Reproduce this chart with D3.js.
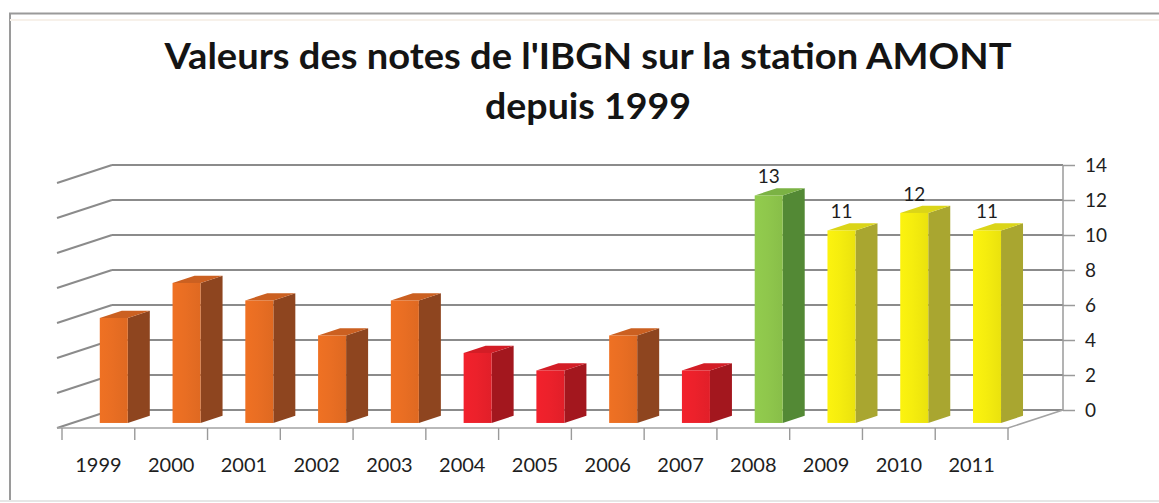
<!DOCTYPE html>
<html>
<head>
<meta charset="utf-8">
<script src="https://cdn.jsdelivr.net/npm/d3@7"></script>
<style>
  html, body { margin: 0; padding: 0; background: #fff; }
  svg { display: block; }
</style>
</head>
<body>
<svg id="chart" width="1159" height="503"></svg>
<script>
// IBGN scores recorded at the upstream (AMONT) station
const years = ["1999","2000","2001","2002","2003","2004","2005","2006","2007","2008","2009","2010","2011"];
const notes = [6, 8, 7, 5, 7, 4, 3, 5, 3, 13, 11, 12, 11];
const noteTicks = [0, 2, 4, 6, 8, 10, 12, 14];
const labelledYears = ["2008", "2009", "2010", "2011"];
const titleLines = ["Valeurs des notes de l'IBGN sur la station AMONT", "depuis 1999"];

// IBGN quality classes: 0-4, 5-8, 9-12, 13-16, 17-20
const classBreaks = [5, 9, 13, 17];

const svg = d3.select("#chart");
const W = 1159, H = 503;
const FONT = "Lato, 'Open Sans', 'DejaVu Sans', sans-serif";

// Pseudo-3D box: front plane and an oblique depth offset toward the back wall
const frontLeft = 62, frontRight = 1008, floorFront = 428;
const DX = 55, DY = 18;            // depth offset of the back wall
const barDepth0 = 0.28, barDepth = 0.40; // bar front position / thickness, as depth fractions
const plotH = 245;

const x = d3.scaleBand().domain(years).range([frontLeft, frontRight])
  .paddingInner(0.615).paddingOuter(0.3075);
const xCat = d3.scaleBand().domain(years).range([frontLeft, frontRight]);
const h = d3.scaleLinear().domain([0, 14]).range([0, plotH]);
const yBack = d3.scaleLinear().domain([0, 14]).range([floorFront - DY, floorFront - DY - plotH]);

const frontColor = d3.scaleThreshold().domain(classBreaks)
  .range(["#e8202a", "#e56c22", "#f1e90e", "#8cc34b", "#3f7fc4"]);
const sideColor = d3.scaleThreshold().domain(classBreaks)
  .range(["#a3171e", "#8e451f", "#a9a630", "#538935", "#2b5a8e"]);

// Outer frame
svg.append("rect").attr("x", 0).attr("y", 0).attr("width", W).attr("height", H).attr("fill", "#fff");
svg.append("path").attr("d", `M10,${H - 3} V13.5 H${W}`)
  .attr("fill", "none").attr("stroke", "#9a9a9a").attr("stroke-width", 2);
svg.append("line").attr("x1", 10).attr("x2", W).attr("y1", 20).attr("y2", 20)
  .attr("stroke", "#f7f1ea").attr("stroke-width", 2);
svg.append("line").attr("x1", 0).attr("x2", W).attr("y1", 501).attr("y2", 501)
  .attr("stroke", "#e6e6e6").attr("stroke-width", 2);

// Title
const title = svg.append("g").attr("class", "title");
const titleSpan = [847, 206];
titleLines.forEach((t, i) => {
  const el = title.append("text")
    .attr("x", 588).attr("y", 69 + i * 50)
    .attr("text-anchor", "middle")
    .attr("font-family", FONT).attr("font-weight", 700).attr("font-size", 36)
    .attr("fill", "#141414")
    .text(t);
  const w = el.node().getComputedTextLength();
  if (Math.abs(w - titleSpan[i]) > 4) {
    el.attr("textLength", titleSpan[i]).attr("lengthAdjust", "spacingAndGlyphs");
  }
});

const grid = svg.append("g").attr("class", "grid");
const gridStroke = "#8b8b8b";

// Back wall gridlines
grid.selectAll("line.back").data(noteTicks).join("line")
  .attr("class", "back")
  .attr("x1", frontLeft - 5 + DX).attr("x2", frontRight + DX)
  .attr("y1", d => yBack(d)).attr("y2", d => yBack(d))
  .attr("stroke", gridStroke).attr("stroke-width", 2);

// Left wall (oblique) gridlines
grid.selectAll("line.side").data(noteTicks).join("line")
  .attr("class", "side")
  .attr("x1", frontLeft - 5).attr("x2", frontLeft - 5 + DX)
  .attr("y1", d => yBack(d) + DY).attr("y2", d => yBack(d))
  .attr("stroke", gridStroke).attr("stroke-width", 2);

// Right edge of the back wall
grid.append("line")
  .attr("x1", frontRight + DX).attr("x2", frontRight + DX)
  .attr("y1", yBack(14)).attr("y2", yBack(0))
  .attr("stroke", "#9a9a9a").attr("stroke-width", 1.5);

// Floor: front edge and right edge
grid.append("path")
  .attr("d", `M${frontLeft - 5},${floorFront} H${frontRight} L${frontRight + DX},${floorFront - DY}`)
  .attr("fill", "none").attr("stroke", "#a3a3a3").attr("stroke-width", 1.6);

// Category boundary ticks under the floor
grid.selectAll("line.tick").data(d3.range(years.length + 1)).join("line")
  .attr("class", "tick")
  .attr("x1", i => frontLeft + i * xCat.step()).attr("x2", i => frontLeft + i * xCat.step())
  .attr("y1", floorFront).attr("y2", floorFront + 12)
  .attr("stroke", "#9a9a9a").attr("stroke-width", 1.4);

// Right value axis
const yAxis = d3.axisRight(yBack).tickValues(noteTicks).tickSize(12).tickSizeOuter(0).tickPadding(10);
const gy = svg.append("g").attr("transform", `translate(${frontRight + DX},0)`).call(yAxis);
gy.select(".domain").remove();
gy.selectAll(".tick line").attr("stroke", "#9a9a9a").attr("stroke-width", 1.5);
gy.selectAll(".tick text").attr("font-family", FONT).attr("font-size", 19).attr("fill", "#1e1e1e");

// Category axis
const xAxis = d3.axisBottom(xCat).tickSize(0).tickPadding(30);
const gx = svg.append("g").attr("transform", `translate(0,${floorFront})`).call(xAxis);
gx.select(".domain").remove();
gx.selectAll(".tick text").attr("font-family", FONT).attr("font-size", 20).attr("fill", "#1e1e1e");

// Front-face shading
const defs = svg.append("defs");
frontColor.range().forEach((c, i) => {
  const g = defs.append("linearGradient").attr("id", "front" + i).attr("x1", 0).attr("x2", 1).attr("y1", 0).attr("y2", 0);
  const base = d3.color(c);
  g.append("stop").attr("offset", "0%").attr("stop-color", base.brighter(0.12));
  g.append("stop").attr("offset", "45%").attr("stop-color", base.brighter(0.05));
  g.append("stop").attr("offset", "100%").attr("stop-color", base.darker(0.08));
});
const classIndex = v => d3.bisectRight(classBreaks, v);

// Bars
const bx = d => x(d.year) + DX * barDepth0;
const bBottom = floorFront - DY * barDepth0;
const ddx = DX * barDepth, ddy = DY * barDepth;
const data = years.map((year, i) => ({ year, note: notes[i] }));

const bars = svg.append("g").attr("class", "bars")
  .selectAll("g").data(data).join("g");

// side face
bars.append("path")
  .attr("d", d => {
    const x1 = bx(d) + x.bandwidth(), top = bBottom - h(d.note);
    return `M${x1},${bBottom} L${x1},${top} L${x1 + ddx},${top - ddy} L${x1 + ddx},${bBottom - ddy} Z`;
  })
  .attr("fill", d => sideColor(d.note));

// top face
bars.append("path")
  .attr("d", d => {
    const x0 = bx(d), x1 = x0 + x.bandwidth(), top = bBottom - h(d.note);
    return `M${x0},${top} L${x1},${top} L${x1 + ddx},${top - ddy} L${x0 + ddx},${top - ddy} Z`;
  })
  .attr("fill", d => d3.interpolateRgb(frontColor(d.note), sideColor(d.note))(0.3));

// front face
bars.append("rect")
  .attr("x", bx)
  .attr("y", d => bBottom - h(d.note))
  .attr("width", x.bandwidth())
  .attr("height", d => h(d.note))
  .attr("fill", d => `url(#front${classIndex(d.note)})`);

// Value labels
bars.filter(d => labelledYears.includes(d.year))
  .append("text")
  .attr("x", d => bx(d) + x.bandwidth() / 2)
  .attr("y", d => bBottom - h(d.note) - ddy - 5)
  .attr("text-anchor", "middle")
  .attr("font-family", FONT).attr("font-size", 19).attr("fill", "#1e1e1e")
  .text(d => d.note);
</script>
</body>
</html>
